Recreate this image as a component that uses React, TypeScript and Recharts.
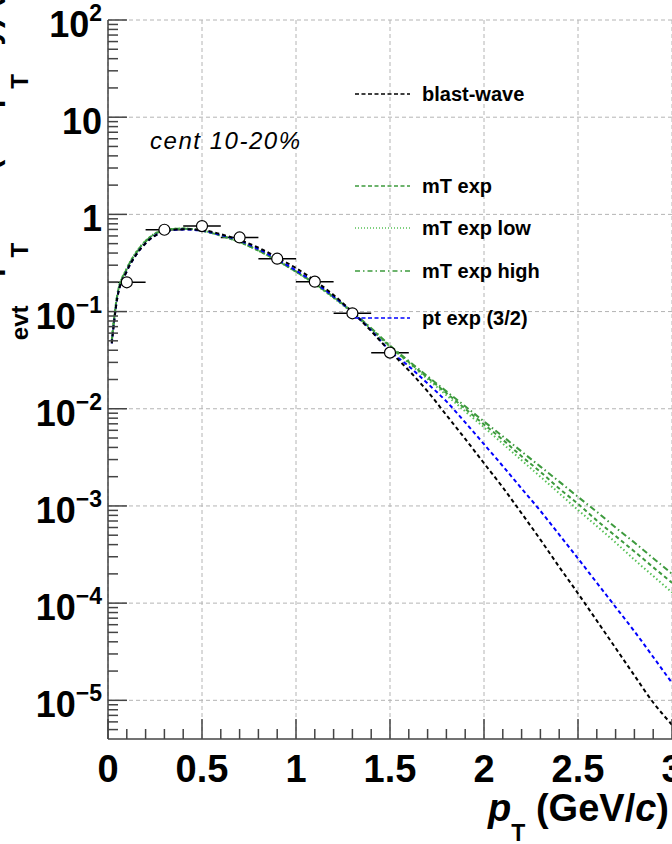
import React from 'react';
import { ComposedChart, Line, Scatter, XAxis, YAxis, CartesianGrid, ErrorBar } from 'recharts';

// measured spectrum, cent 10-20%
const ptBins = [0.1, 0.3, 0.5, 0.7, 0.9, 1.1, 1.3, 1.5];
const ptHalfWidth = [0.1, 0.1, 0.1, 0.1, 0.1, 0.1, 0.1, 0.1];
const yields = [0.2, 0.695, 0.758, 0.579, 0.35, 0.203, 0.096, 0.0378];

// fit curves, sampled at curvePt
const curvePt = [
  0.02, 0.05, 0.1, 0.15, 0.2, 0.3, 0.4, 0.5, 0.6, 0.7, 0.8, 0.9, 1.0, 1.1, 1.2, 1.3, 1.4,
  1.5, 1.6, 1.7, 1.8, 1.9, 2.0, 2.1, 2.2, 2.3, 2.4, 2.5, 2.6, 2.7, 2.8, 2.9, 3.0,
];
const blastWave = [
  0.047, 0.14, 0.26, 0.385, 0.505, 0.665, 0.705, 0.69, 0.625, 0.545, 0.455, 0.36, 0.28, 0.208, 0.148, 0.099, 0.063,
  0.0389, 0.0248, 0.0151, 0.0086, 0.0049, 0.00275, 0.00155, 0.00084, 0.00045, 0.000236, 0.000126, 0.000066,
  0.0000345, 0.000018, 0.0000095, 0.0000056,
];
const mtExp = [
  0.05, 0.15, 0.275, 0.405, 0.53, 0.69, 0.715, 0.68, 0.605, 0.52, 0.425, 0.335, 0.258, 0.193, 0.14, 0.0985, 0.0665,
  0.044, 0.0302, 0.0209, 0.0145, 0.01, 0.0069, 0.0048, 0.00324, 0.00224, 0.00151, 0.00105, 0.00071,
  0.00049, 0.00034, 0.000234, 0.000162,
];
const mtExpLow = [
  0.051, 0.152, 0.278, 0.41, 0.535, 0.693, 0.716, 0.681, 0.605, 0.519, 0.423, 0.333, 0.256, 0.191, 0.138, 0.097, 0.0655,
  0.0432, 0.0295, 0.0202, 0.0138, 0.0094, 0.00645, 0.00437, 0.00295, 0.002, 0.00135, 0.00091, 0.00062,
  0.00042, 0.00028, 0.00019, 0.000129,
];
const mtExpHigh = [
  0.049, 0.148, 0.272, 0.4, 0.525, 0.685, 0.712, 0.678, 0.604, 0.52, 0.426, 0.336, 0.259, 0.194, 0.141, 0.0995, 0.0675,
  0.0447, 0.031, 0.0216, 0.0151, 0.0106, 0.0074, 0.0052, 0.00363, 0.00254, 0.00178, 0.00124, 0.00087,
  0.0006, 0.00042, 0.00029, 0.0002,
];
const ptExp = [
  0.047, 0.14, 0.26, 0.385, 0.505, 0.665, 0.7, 0.68, 0.615, 0.535, 0.44, 0.345, 0.265, 0.198, 0.143, 0.098, 0.064,
  0.0395, 0.0274, 0.0182, 0.0119, 0.00724, 0.00432, 0.00257, 0.00151, 0.00089, 0.000507, 0.000288, 0.000162,
  0.0000912, 0.0000513, 0.0000279, 0.0000151,
];

// axis ticks
const xMajorTicks = [0, 0.5, 1, 1.5, 2, 2.5, 3];
const xTickLabels = ['0', '0.5', '1', '1.5', '2', '2.5', '3'];
const yMajorTicks = [1e-5, 1e-4, 1e-3, 1e-2, 0.1, 1, 10, 100];
const yTickBase = ['10', '10', '10', '10', '10', '1', '10', '10'];
const yTickSup = ['\u22125', '\u22124', '\u22123', '\u22122', '\u22121', '', '', '2'];

const X_DOMAIN: [number, number] = [0, 3];
const Y_DOMAIN: [number, number] = [4e-6, 100];

const xAllTicks = Array.from({ length: 31 }, (_, i) => +(i * 0.1).toFixed(1));
const yAllTicks: number[] = [];
[1e-6, 1e-5, 1e-4, 1e-3, 1e-2, 0.1, 1, 10].forEach((d) => {
  for (let m = 1; m <= 9; m++) {
    const v = +(m * d).toPrecision(3);
    if (v > Y_DOMAIN[0] && v <= Y_DOMAIN[1]) yAllTicks.push(v);
  }
});
yAllTicks.push(100);

const FONT = "'Liberation Sans', Arial, Helvetica, sans-serif";
const AXIS = '#444';

const series = [
  { name: 'mT exp low', data: mtExpLow, color: '#56c156', dash: '1.5 2.5', legendDash: '1 2', legendY: 228 },
  { name: 'mT exp high', data: mtExpHigh, color: '#3d9a3d', dash: '6 3 1.5 3', legendDash: '5 3 1.5 3', legendY: 271 },
  { name: 'mT exp', data: mtExp, color: '#3d9a3d', dash: '4 3', legendDash: '4 2.5', legendY: 186 },
  { name: 'pt exp (3/2)', data: ptExp, color: '#0000ff', dash: '4 3', legendDash: '4 2.5', legendY: 318 },
  { name: 'blast-wave', data: blastWave, color: '#000000', dash: '4 3', legendDash: '4 2.5', legendY: 94 },
];

const toPoints = (ys: number[]) => curvePt.map((x, i) => ({ x, y: ys[i] }));
const points = ptBins.map((x, i) => ({ x, y: yields[i], xerr: ptHalfWidth[i] }));

const XTick = (props: any) => {
  const { x, y, payload } = props;
  const idx = xMajorTicks.indexOf(payload.value);
  const major = idx >= 0;
  return (
    <g>
      <line x1={x} x2={x} y1={y} y2={y - (major ? 20 : 10)} stroke={AXIS} strokeWidth={1.5} />
      {major && (
        <text x={x} y={y + 43} textAnchor="middle" fontFamily={FONT} fontWeight="bold" fontSize={38} fill="#000">
          {xTickLabels[idx]}
        </text>
      )}
    </g>
  );
};

const YTick = (props: any) => {
  const { x, y, payload } = props;
  const idx = yMajorTicks.indexOf(payload.value);
  const major = idx >= 0;
  return (
    <g>
      <line x1={x} x2={x + (major ? 19 : 10)} y1={y} y2={y} stroke={AXIS} strokeWidth={1.5} />
      {major && (
        <text x={x - 6} y={y + 17} textAnchor="end" fontFamily={FONT} fontWeight="bold" fontSize={36} fill="#000">
          <tspan>{yTickBase[idx]}</tspan>
          {yTickSup[idx] && (
            <tspan dy={-16} fontSize={23}>
              {yTickSup[idx]}
            </tspan>
          )}
        </text>
      )}
    </g>
  );
};

const OpenCircle = (props: any) => (
  <circle cx={props.cx} cy={props.cy} r={5.5} fill="#ffffff" stroke="#000" strokeWidth={1.2} />
);

export default function App() {
  return (
    <div style={{ position: 'absolute', left: 0, top: 0, width: 672, height: 844, overflow: 'hidden', background: '#fff' }}>
      <ComposedChart width={672} height={844} margin={{ top: 20, right: 0, bottom: 0, left: 0 }}>
        <CartesianGrid
          horizontalValues={yMajorTicks}
          verticalValues={xMajorTicks}
          stroke="#b4b4b4"
          strokeDasharray="4 3"
        />
        <XAxis
          dataKey="x"
          type="number"
          domain={X_DOMAIN}
          ticks={xAllTicks}
          interval={0}
          height={105}
          tick={<XTick />}
          tickLine={false}
          tickSize={0}
          tickMargin={0}
          axisLine={{ stroke: AXIS, strokeWidth: 1.5 }}
          allowDataOverflow
        />
        <YAxis
          type="number"
          scale="log"
          domain={Y_DOMAIN}
          ticks={yAllTicks}
          interval={0}
          width={108}
          tick={<YTick />}
          tickLine={false}
          tickSize={0}
          tickMargin={0}
          axisLine={{ stroke: AXIS, strokeWidth: 1.5 }}
          allowDataOverflow
        />
        <Scatter data={points} dataKey="y" shape={<OpenCircle />} isAnimationActive={false}>
          <ErrorBar dataKey="xerr" direction="x" width={0} stroke="#000" strokeWidth={1.5} />
        </Scatter>
        {series.map((s) => (
          <Line
            key={s.name}
            data={toPoints(s.data)}
            dataKey="y"
            type="monotone"
            stroke={s.color}
            strokeWidth={2}
            strokeDasharray={s.dash}
            dot={false}
            activeDot={false}
            isAnimationActive={false}
          />
        ))}
      </ComposedChart>

      <svg width={672} height={844} style={{ position: 'absolute', left: 0, top: 0, pointerEvents: 'none' }}>
        {series.map((s) => (
          <g key={s.name}>
            <line x1={355} x2={410} y1={s.legendY} y2={s.legendY} stroke={s.color} strokeWidth={1.6} strokeDasharray={s.legendDash} />
            <text x={422} y={s.legendY + 7} fontFamily={FONT} fontWeight="bold" fontSize={20} fill="#000">
              {s.name}
            </text>
          </g>
        ))}
        <text x={150} y={149} fontFamily={FONT} fontStyle="italic" fontSize={24} textLength={150} lengthAdjust="spacing" fill="#000">
          cent 10-20%
        </text>
        <text x={669} y={821} textAnchor="end" fontFamily={FONT} fontWeight="bold" fontSize={38} fill="#000">
          <tspan fontStyle="italic">p</tspan>
          <tspan dy={20} fontSize={23}>T</tspan>
          <tspan dy={-20}> (GeV/</tspan>
          <tspan fontStyle="italic">c</tspan>
          <tspan>)</tspan>
        </text>
        <text transform="translate(-2, 390) rotate(-90)" fontFamily={FONT} fontWeight="bold" fontSize={32} fill="#000">
          <tspan>1/N</tspan>
          <tspan dy={30} fontSize={24}>evt</tspan>
          <tspan dy={-30}> dp</tspan>
          <tspan dy={30} fontSize={24}>T</tspan>
          <tspan dy={-30}> d</tspan>
          <tspan dy={-12} fontSize={22}>2</tspan>
          <tspan dy={12}>N/(2π p</tspan>
          <tspan dy={30} fontSize={24}>T</tspan>
          <tspan dy={-30}> dy) ((GeV/c)</tspan>
          <tspan dy={-12} fontSize={22}>−2</tspan>
          <tspan dy={12}>)</tspan>
        </text>
      </svg>
    </div>
  );
}
